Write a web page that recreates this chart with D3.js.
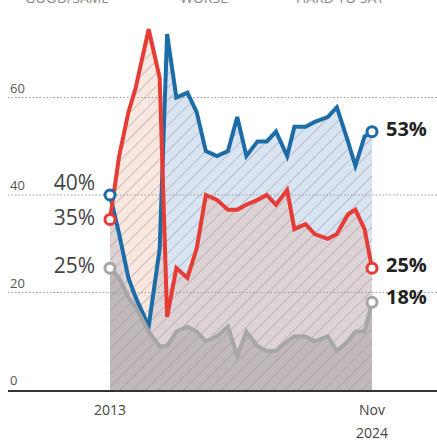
<!DOCTYPE html>
<html>
<head>
<meta charset="utf-8">
<script src="https://cdn.jsdelivr.net/npm/d3@7"></script>
<style>
  body { margin: 0; background: #fff; }
  text { font-family: "Open Sans", "Noto Sans", sans-serif; }
</style>
</head>
<body>
<div id="chart"></div>
<script>
// survey dates
var dates = ["2013-01", "2013-06", "2013-11", "2014-03", "2014-10", "2015-04", "2015-08",
    "2016-01", "2016-07", "2016-12", "2017-05", "2017-11", "2018-05", "2018-10",
    "2019-03", "2019-09", "2020-02", "2020-07", "2021-01", "2021-05", "2021-11",
    "2022-04", "2022-11", "2023-04", "2023-10", "2024-02", "2024-07", "2024-11"];

var blueVals = [40, 32, 23, 19, 13, 29, 73, 60, 61, 57, 49, 48, 49, 56,
    48, 51, 51, 53, 48, 54, 54, 55, 56, 58, 51, 46, 52, 53];
var redVals = [35, 48, 57, 62, 74, 64, 15, 25, 23, 29, 40, 39, 37, 37,
    38, 39, 40, 38, 41, 33, 34, 32, 31, 32, 36, 37, 33, 25];
var grayVals = [25, 23, 19, 17, 12, 9, 9, 12, 13, 12, 10, 11, 13, 7,
    12, 9, 8, 8, 10, 11, 11, 10, 11, 8, 10, 12, 12, 18];

var legendLabels = ["GOOD/SAME", "WORSE", "HARD TO SAY"];
var yTicks = [0, 20, 40, 60];

var width = 437, height = 444;
var parse = d3.timeParse("%Y-%m");

var x = d3.scaleTime()
    .domain([parse("2013-01"), parse("2024-11")])
    .range([110, 372]);
var y = d3.scaleLinear()
    .domain([0, 80])
    .range([390, 0]);

var series = [
    { vals: blueVals, line: "#1c6ca8", fill: "rgba(150,180,222,0.36)" },
    { vals: redVals, line: "#e63c36", fill: "rgba(235,160,130,0.25)" },
    { vals: grayVals, line: "#a6a6a6", fill: "rgba(128,124,124,0.30)" }
];
series.forEach(function (s) {
    s.data = dates.map(function (d, i) { return { date: parse(d), v: s.vals[i] }; });
});

var svg = d3.select("#chart")
    .append("svg")
    .attr("width", width)
    .attr("height", height);

var defs = svg.append("defs");
var pat = defs.append("pattern")
    .attr("id", "hatch")
    .attr("patternUnits", "userSpaceOnUse")
    .attr("width", 9)
    .attr("height", 9)
    .attr("patternTransform", "rotate(45)");
pat.append("line")
    .attr("x1", 0).attr("y1", 0)
    .attr("x2", 0).attr("y2", 9)
    .attr("stroke", "#9a9696")
    .attr("stroke-width", 1);

var area = d3.area()
    .x(function (d) { return x(d.date); })
    .y0(y(0))
    .y1(function (d) { return y(d.v); });
var line = d3.line()
    .x(function (d) { return x(d.date); })
    .y(function (d) { return y(d.v); });

// legend, cut off at the top edge like the source crop
var legendX = [25, 180, 296];
svg.selectAll(".legend")
    .data(legendLabels)
    .enter()
    .append("text")
    .attr("x", function (d, i) { return legendX[i]; })
    .attr("y", 3)
    .attr("font-size", "14px")
    .attr("fill", "#888")
    .text(function (d) { return d; });

// areas
series.forEach(function (s) {
    svg.append("path")
        .datum(s.data)
        .attr("d", area)
        .attr("fill", s.fill);
});

var clip = defs.append("clipPath").attr("id", "allAreas");
series.forEach(function (s) {
    clip.append("path").datum(s.data).attr("d", area);
});
svg.append("rect")
    .attr("x", x.range()[0])
    .attr("y", 0)
    .attr("width", x.range()[1] - x.range()[0])
    .attr("height", y(0))
    .attr("fill", "url(#hatch)")
    .attr("clip-path", "url(#allAreas)");

// gridlines + tick labels
svg.selectAll(".grid")
    .data(yTicks.filter(function (t) { return t > 0; }))
    .enter()
    .append("line")
    .attr("x1", 8).attr("x2", width)
    .attr("y1", function (d) { return y(d); })
    .attr("y2", function (d) { return y(d); })
    .attr("stroke", "#999")
    .attr("stroke-width", 1)
    .attr("stroke-dasharray", "1.5,2");

svg.selectAll(".ytick")
    .data(yTicks)
    .enter()
    .append("text")
    .attr("x", 10)
    .attr("y", function (d) { return y(d) - 5; })
    .attr("font-size", "13px")
    .attr("fill", "#555")
    .text(function (d) { return d; });

svg.append("line")
    .attr("x1", 8).attr("x2", width)
    .attr("y1", y(0) + 1).attr("y2", y(0) + 1)
    .attr("stroke", "#333")
    .attr("stroke-width", 2);

// lines
series.forEach(function (s) {
    svg.append("path")
        .datum(s.data)
        .attr("d", line)
        .attr("fill", "none")
        .attr("stroke", s.line)
        .attr("stroke-width", 4)
        .attr("stroke-linejoin", "miter");
});

// end markers
series.forEach(function (s) {
    [s.data[0], s.data[s.data.length - 1]].forEach(function (d) {
        svg.append("circle")
            .attr("cx", x(d.date))
            .attr("cy", y(d.v))
            .attr("r", 5)
            .attr("fill", "#fff")
            .attr("stroke", s.line)
            .attr("stroke-width", 3);
    });
});

// value labels
var startOffsets = [-12, -2, -2];
series.forEach(function (s, i) {
    var first = s.data[0];
    svg.append("text")
        .attr("x", 95)
        .attr("y", y(first.v) + startOffsets[i])
        .attr("dy", "0.35em")
        .attr("text-anchor", "end")
        .attr("font-size", "21px")
        .attr("fill", "#444")
        .text(first.v + "%");
});
var endOffsets = [-3, -3, -5];
series.forEach(function (s, i) {
    var last = s.data[s.data.length - 1];
    svg.append("text")
        .attr("x", 386)
        .attr("y", y(last.v) + endOffsets[i])
        .attr("dy", "0.35em")
        .attr("font-size", "20px")
        .attr("font-weight", "bold")
        .attr("fill", "#222")
        .text(last.v + "%");
});

// x labels
svg.append("text")
    .attr("x", x(parse("2013-01")))
    .attr("y", 415)
    .attr("text-anchor", "middle")
    .attr("font-size", "14px")
    .attr("fill", "#444")
    .text("2013");
var endLabel = svg.append("text")
    .attr("x", x(parse("2024-11")))
    .attr("y", 415)
    .attr("text-anchor", "middle")
    .attr("font-size", "14px")
    .attr("fill", "#444");
endLabel.append("tspan").attr("x", x(parse("2024-11"))).text("Nov");
endLabel.append("tspan").attr("x", x(parse("2024-11"))).attr("dy", 23).text("2024");
</script>
</body>
</html>
